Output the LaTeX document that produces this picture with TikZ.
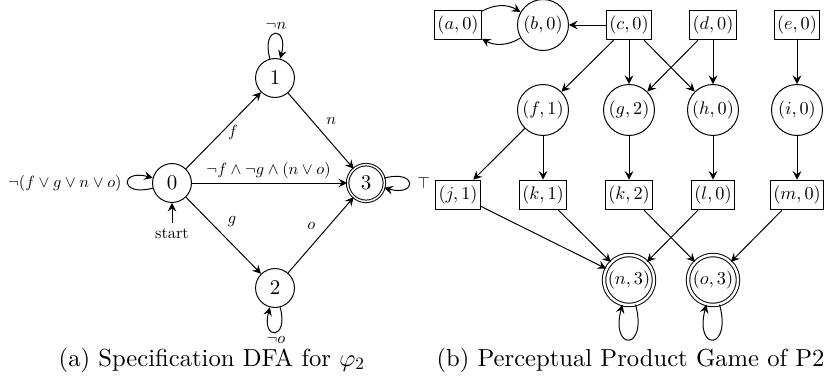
\documentclass[tikz,border=0pt]{standalone}
\usetikzlibrary{arrows.meta}
\DeclareFontShape{OML}{cmm}{m}{it}{<->cmmi10}{}
\DeclareFontShape{OMS}{cmsy}{m}{n}{<->cmsy10}{}
\DeclareFontShape{OT1}{cmr}{m}{n}{<->cmr10}{}
\DeclareFontShape{TU}{lmr}{m}{n}{<->"[lmroman10-regular]:mapping=tex-text"}{}
\begin{document}
\begin{tikzpicture}[x=0.406pt,y=-0.406pt,
  >={Stealth[length=3.5pt,width=3.5pt,inset=1.3pt]},
  state/.style={draw,circle,minimum size=15.8pt,inner sep=0pt,font=\fontsize{8.5}{10}\selectfont},
  accst/.style={state,double,double distance=0.6pt,minimum size=14.9pt},
  elab/.style={font=\fontsize{6.6}{8}\selectfont,inner sep=0pt},
  pbox/.style={draw,rectangle,inner xsep=1.2pt,inner ysep=0pt,minimum height=12pt,font=\fontsize{7.4}{9}\selectfont},
  pcirc/.style={draw,circle,inner sep=0pt,minimum size=20.7pt,font=\fontsize{7.4}{9}\selectfont},
  pacc/.style={pcirc,double,double distance=1pt,minimum size=20.3pt},
  captext/.style={font=\fontsize{10}{12}\selectfont,inner sep=0pt}
]
\useasboundingbox (0,0) rectangle (826,392);

% ---------- (a) DFA ----------
\node[state] (q0) at (172,183) {$0$};
\node[state] (q1) at (275,78) {$1$};
\node[state] (q2) at (275,288) {$2$};
\node[accst] (q3) at (366,183) {$3$};
\node[elab,inner sep=2.2pt] (st) at (172,234) {start};

\draw[->] (st) -- (q0);
\draw[->] (q0) -- node[elab,shift={(9.5,1.5)}] {$f$} (q1);
\draw[->] (q1) -- node[elab,shift={(10.5,-9.5)}] {$n$} (q3);
\draw[->] (q0) -- node[elab,shift={(-1,-13)}] {$\neg f\wedge\neg g\wedge(n\vee o)$} (q3);
\draw[->] (q0) -- node[elab,shift={(8.5,-13.5)}] {$g$} (q2);
\draw[->] (q2) -- node[elab,shift={(-9.5,-9.5)}] {$o$} (q3);

\draw[->] (q1.105) .. controls +(105:14pt) and +(75:14pt) .. (q1.75);
\draw[->] (q0.195) .. controls +(195:14pt) and +(165:14pt) .. (q0.165);
\draw[->] (q3.15) .. controls +(15:14pt) and +(-15:14pt) .. (q3.-15);
\draw[->] (q2.285) .. controls +(285:14pt) and +(255:14pt) .. (q2.255);

\node[elab] (l1) at (276,26) {$\neg n$};
\node[elab,anchor=east] (l0) at (122,183) {$\neg(f\vee g\vee n\vee o)$};
\node[elab,anchor=west] (l3) at (417,183) {$\top$};
\node[elab] (l2) at (276,340) {$\neg o$};

\node[captext] (capa) at (212,360) {(a) Specification DFA for $\varphi_2$};

% ---------- (b) Product game ----------
\node[pbox] (a0) at (458,25) {$(a,0)$};
\node[pcirc] (b0) at (543,25) {$(b,0)$};
\node[pbox] (c0) at (629,25) {$(c,0)$};
\node[pbox] (d0) at (713,25) {$(d,0)$};
\node[pbox] (e0) at (797,25) {$(e,0)$};

\node[pcirc] (f1) at (543,110) {$(f,1)$};
\node[pcirc] (g2) at (629,110) {$(g,2)$};
\node[pcirc] (h0) at (713,110) {$(h,0)$};
\node[pcirc] (i0) at (797,110) {$(i,0)$};

\node[pbox] (j1) at (458,195) {$(j,1)$};
\node[pbox] (k1) at (543,195) {$(k,1)$};
\node[pbox] (k2) at (629,195) {$(k,2)$};
\node[pbox] (l0b) at (713,195) {$(l,0)$};
\node[pbox] (m0) at (797,195) {$(m,0)$};

\node[pacc] (n3) at (629,280) {$(n,3)$};
\node[pacc] (o3) at (713,280) {$(o,3)$};

\draw[->] (a0) to[bend left=30] (b0);
\draw[->] (b0) to[bend left=30] (a0);
\draw[->] (c0) -- (b0);
\draw[->] (c0) -- (f1);
\draw[->] (c0) -- (g2);
\draw[->] (c0) -- (h0);
\draw[->] (d0) -- (g2);
\draw[->] (d0) -- (h0);
\draw[->] (e0) -- (i0);
\draw[->] (f1) -- (j1);
\draw[->] (f1) -- (k1);
\draw[->] (g2) -- (k2);
\draw[->] (h0) -- (l0b);
\draw[->] (i0) -- (m0);
\draw[->] (j1) -- (n3);
\draw[->] (k1) -- (n3);
\draw[->] (l0b) -- (n3);
\draw[->] (k2) -- (o3);
\draw[->] (m0) -- (o3);
\draw[->] (n3.285) .. controls +(285:19.6pt) and +(255:19.6pt) .. (n3.255);
\draw[->] (o3.285) .. controls +(285:19.6pt) and +(255:19.6pt) .. (o3.255);

\node[captext] (capb) at (630.5,360) {(b) Perceptual Product Game of P2};
\end{tikzpicture}
\end{document}
